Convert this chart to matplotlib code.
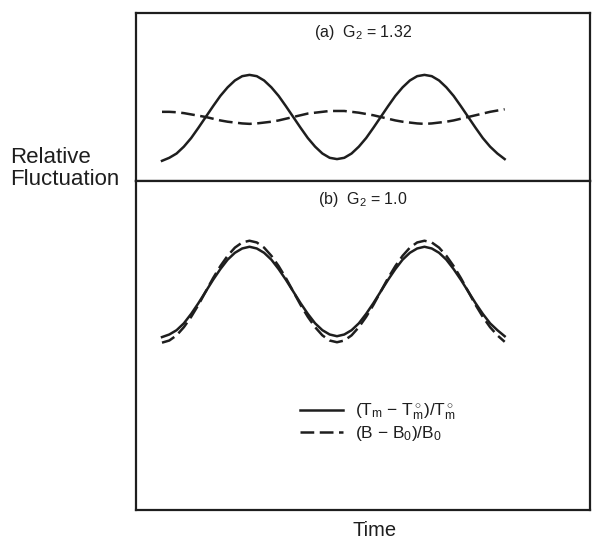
import numpy as np
import matplotlib
matplotlib.use("Agg")
import matplotlib.pyplot as plt

plt.rcParams['font.family'] = ['Liberation Sans', 'DejaVu Sans']
plt.rcParams['mathtext.fontset'] = 'custom'
plt.rcParams['mathtext.rm'] = 'Liberation Sans'
plt.rcParams['mathtext.it'] = 'Liberation Sans:italic'

# time steps (24 steps per oscillation period)
time_steps = np.arange(48)

# (a) G2 = 1.32 : melt temperature vs magnetic field fluctuation
temp_a = [-1.02, -0.95, -0.85, -0.69, -0.49, -0.25, 0.00, 0.25, 0.49, 0.69, 0.85, 0.95,
          0.98, 0.95, 0.85, 0.69, 0.49, 0.25, 0.00, -0.25, -0.49, -0.69, -0.85, -0.95,
          -0.98, -0.95, -0.85, -0.69, -0.49, -0.25, 0.00, 0.25, 0.49, 0.69, 0.85, 0.95,
          0.98, 0.95, 0.85, 0.69, 0.49, 0.25, 0.00, -0.25, -0.49, -0.69, -0.85, -0.98]
field_a = [0.12, 0.12, 0.11, 0.09, 0.06, 0.03, 0.00, -0.04, -0.08, -0.11, -0.13, -0.15,
           -0.16, -0.15, -0.13, -0.11, -0.08, -0.04, 0.00, 0.04, 0.08, 0.10, 0.12, 0.14,
           0.14, 0.14, 0.12, 0.10, 0.07, 0.04, 0.00, -0.04, -0.08, -0.11, -0.13, -0.15,
           -0.16, -0.15, -0.13, -0.11, -0.08, -0.04, 0.00, 0.04, 0.08, 0.12, 0.15, 0.18]

# (b) G2 = 1.0
temp_b = [-1.06, -1.00, -0.90, -0.74, -0.52, -0.27, 0.00, 0.27, 0.52, 0.74, 0.90, 1.00,
          1.04, 1.00, 0.90, 0.74, 0.52, 0.27, 0.00, -0.27, -0.52, -0.74, -0.90, -1.00,
          -1.04, -1.00, -0.90, -0.74, -0.52, -0.27, 0.00, 0.27, 0.52, 0.74, 0.90, 1.00,
          1.04, 1.00, 0.90, 0.74, 0.52, 0.27, 0.00, -0.27, -0.52, -0.74, -0.90, -1.04]
field_b = [-1.19, -1.14, -1.02, -0.83, -0.59, -0.31, 0.00, 0.31, 0.59, 0.83, 1.02, 1.14,
           1.18, 1.14, 1.02, 0.83, 0.59, 0.31, 0.00, -0.31, -0.59, -0.83, -1.02, -1.14,
           -1.18, -1.14, -1.02, -0.83, -0.59, -0.31, 0.00, 0.31, 0.59, 0.83, 1.02, 1.14,
           1.18, 1.14, 1.02, 0.83, 0.59, 0.31, 0.00, -0.31, -0.59, -0.83, -1.02, -1.17]

titles = [r"(a)  G$_\mathrm{2}$ = 1.32", r"(b)  G$_\mathrm{2}$ = 1.0"]
labels = [r"(T$_\mathrm{m}$ $-$ T$_\mathrm{m}^\circ$)/T$_\mathrm{m}^\circ$",
          r"(B $-$ B$_\mathrm{0}$)/B$_\mathrm{0}$"]

ink = '#1e1e1e'
lw = 1.8
dash = (5.5, 2.2)

fig = plt.figure(figsize=(5.93, 5.40), dpi=100)
ax_a = fig.add_axes([0.2293, 0.6648, 0.7656, 0.3111])
ax_b = fig.add_axes([0.2293, 0.0556, 0.7656, 0.6093])

ax_a.plot(time_steps, temp_a, color=ink, lw=lw)
ax_a.plot(time_steps, field_a, color=ink, lw=lw, dashes=dash)
ax_a.set_ylim(-1.49, 2.42)

l1, = ax_b.plot(time_steps, temp_b, color=ink, lw=lw)
l2, = ax_b.plot(time_steps, field_b, color=ink, lw=lw, dashes=dash)
ax_b.set_ylim(-5.08, 2.57)

for ax, title in zip([ax_a, ax_b], titles):
    ax.set_xlim(-3.57, 58.7)
    ax.set_xticks([])
    ax.set_yticks([])
    for sp in ax.spines.values():
        sp.set_linewidth(1.6)
        sp.set_color(ink)
    ax.text(0.5, 1 - 19 / (ax.bbox.height), title, transform=ax.transAxes,
            ha='center', va='center', fontsize=11.5, color=ink)

ax_b.legend([l1, l2], labels, loc='center left', bbox_to_anchor=(0.361, 0.266),
            frameon=False, fontsize=12.5, handlelength=2.5, handletextpad=0.7,
            borderpad=0, borderaxespad=0, labelspacing=0.1,
            labelcolor=ink)

fig.text(10 / 593, 1 - 158 / 540, "Relative", fontsize=16, color=ink,
         ha='left', va='center')
fig.text(10 / 593, 1 - 180 / 540, "Fluctuation", fontsize=16, color=ink,
         ha='left', va='center')
fig.text(375 / 593, 1 - 530 / 540, "Time", fontsize=14.5, color=ink,
         ha='center', va='center')

fig.savefig("out.png", dpi=100, facecolor='white')
